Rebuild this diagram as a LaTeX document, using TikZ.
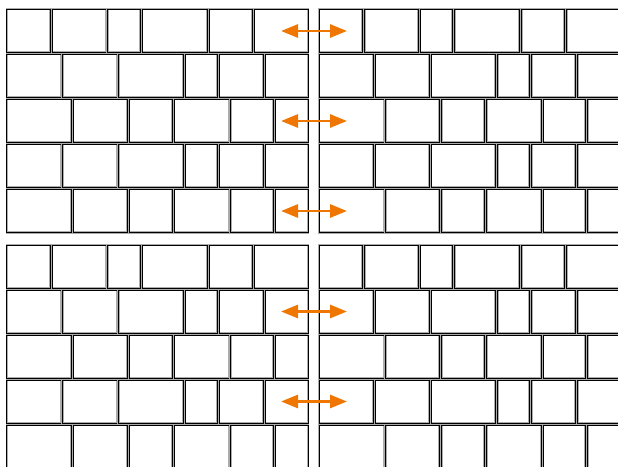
\documentclass[tikz,border=0pt]{standalone}
\usetikzlibrary{arrows.meta}
\definecolor{jointorange}{RGB}{239,118,0}
\tikzset{
  brick/.style={draw=black, line width=0.8pt,
                preaction={draw=gray!65, line width=2.1pt}},
  swaparr/.style={{Triangle[length=17pt,width=13pt]}-{Triangle[length=17pt,width=13pt]},
                  draw=jointorange, line width=2.8pt, shorten <=0pt, shorten >=0pt},
}

\begin{document}
\begin{tikzpicture}[x=1pt,y=-1pt]
\useasboundingbox (0,0) rectangle (618,466);
\clip (0,0) rectangle (618,466);
% courses of type A (top course of each wall)
\foreach \yy in {9,245}
  \foreach \dx in {0,312.5}
    \foreach \a/\b in {6.7/50,52/106,107.5/140,142/207,209/252,254/308}
      \draw[brick] (\a+\dx,\yy) rectangle (\b+\dx,\yy+43.5);
% courses of type B
\foreach \yy in {54,144,290,380}
  \foreach \dx in {0,312.5}
    \foreach \a/\b in {6.7/61,62.5/117,118.5/183,185/217,219/263,265/308}
      \draw[brick] (\a+\dx,\yy) rectangle (\b+\dx,\yy+43.5);
% courses of type C
\foreach \yy in {99,189,335,425}
  \foreach \dx in {0,312.5}
    \foreach \a/\b in {6.7/71.5,73/127,129/172,174/229,230.5/273,275/308}
      \draw[brick] (\a+\dx,\yy) rectangle (\b+\dx,\yy+43.5);
% movement arrows across the gap
\foreach \i/\yy in {1/31,2/121,3/211,4/311.5,5/401.5}{
  \coordinate (left\i) at (281,\yy);
  \coordinate (right\i) at (347,\yy);
  \draw[swaparr] (left\i) -- (right\i);
}
\end{tikzpicture}
\end{document}
